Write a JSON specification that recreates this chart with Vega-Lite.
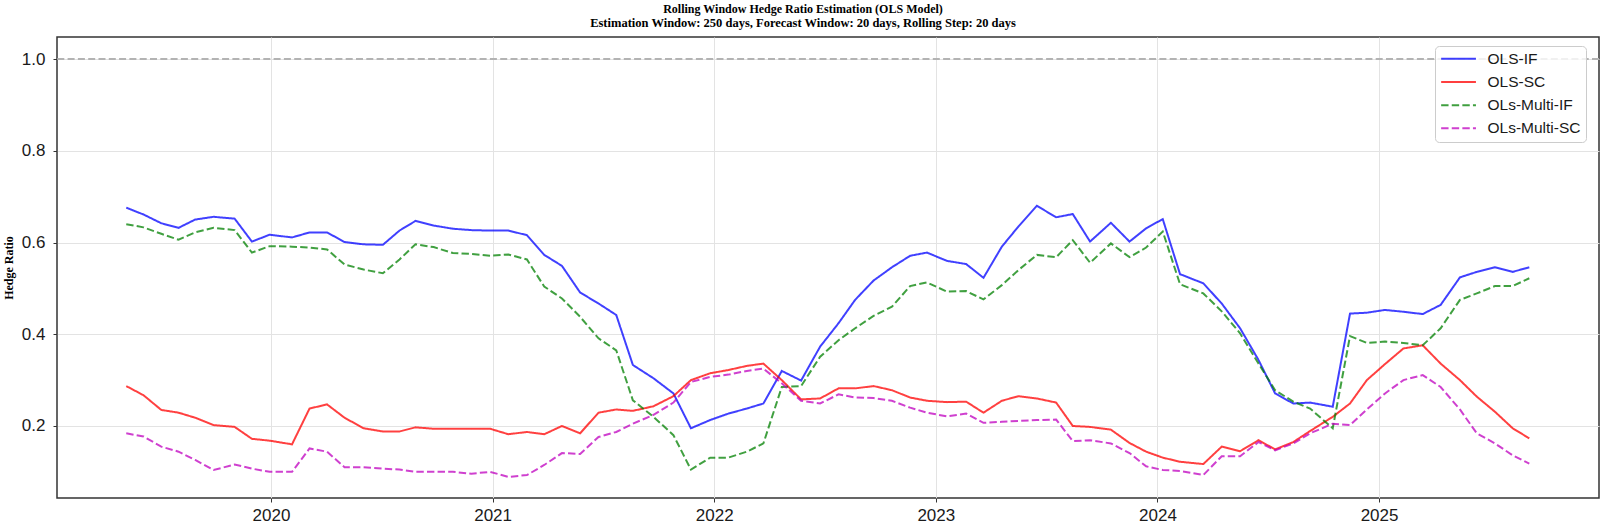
{
  "$schema": "https://vega.github.io/schema/vega-lite/v6.json",
  "width": 1542,
  "height": 461,
  "autosize": "none",
  "padding": {"left": 57, "top": 37, "right": 1, "bottom": 25},
  "background": "white",
  "title": {
    "text": "Rolling Window Hedge Ratio Estimation (OLS Model)",
    "subtitle": "Estimation Window: 250 days, Forecast Window: 20 days, Rolling Step: 20 days",
    "font": "Liberation Serif",
    "fontSize": 12,
    "fontWeight": "bold",
    "color": "black",
    "subtitleFont": "Liberation Serif",
    "subtitleFontSize": 12.5,
    "subtitleFontWeight": "bold",
    "subtitleColor": "black",
    "subtitlePadding": 1,
    "anchor": "middle",
    "offset": 7,
    "dx": -25
  },
  "config": {
    "view": {"stroke": "#333333", "strokeWidth": 1.5},
    "axis": {
      "labelFont": "Liberation Sans",
      "labelFontSize": 17,
      "labelColor": "#1a1a1a",
      "tickColor": "#333333",
      "tickSize": 4,
      "tickWidth": 1,
      "gridColor": "#e3e3e3",
      "gridWidth": 1,
      "domain": false
    }
  },
  "datasets": {
    "hedge": [
      {"t": 2019.347, "OLS-IF": 0.676, "OLS-SC": 0.287, "OLs-Multi-IF": 0.640, "OLs-Multi-SC": 0.184},
      {"t": 2019.425, "OLS-IF": 0.661, "OLS-SC": 0.267, "OLs-Multi-IF": 0.633, "OLs-Multi-SC": 0.177},
      {"t": 2019.505, "OLS-IF": 0.642, "OLS-SC": 0.235, "OLs-Multi-IF": 0.619, "OLs-Multi-SC": 0.155},
      {"t": 2019.583, "OLS-IF": 0.632, "OLS-SC": 0.229, "OLs-Multi-IF": 0.606, "OLs-Multi-SC": 0.144},
      {"t": 2019.658, "OLS-IF": 0.650, "OLS-SC": 0.218, "OLs-Multi-IF": 0.622, "OLs-Multi-SC": 0.126},
      {"t": 2019.741, "OLS-IF": 0.656, "OLS-SC": 0.202, "OLs-Multi-IF": 0.632, "OLs-Multi-SC": 0.104},
      {"t": 2019.836, "OLS-IF": 0.652, "OLS-SC": 0.198, "OLs-Multi-IF": 0.627, "OLs-Multi-SC": 0.116},
      {"t": 2019.914, "OLS-IF": 0.602, "OLS-SC": 0.172, "OLs-Multi-IF": 0.578, "OLs-Multi-SC": 0.107},
      {"t": 2019.994, "OLS-IF": 0.617, "OLS-SC": 0.168, "OLs-Multi-IF": 0.592, "OLs-Multi-SC": 0.100},
      {"t": 2020.095, "OLS-IF": 0.611, "OLS-SC": 0.160, "OLs-Multi-IF": 0.591, "OLs-Multi-SC": 0.100},
      {"t": 2020.174, "OLS-IF": 0.622, "OLS-SC": 0.238, "OLs-Multi-IF": 0.589, "OLs-Multi-SC": 0.151},
      {"t": 2020.253, "OLS-IF": 0.622, "OLS-SC": 0.247, "OLs-Multi-IF": 0.585, "OLs-Multi-SC": 0.144},
      {"t": 2020.332, "OLS-IF": 0.601, "OLS-SC": 0.218, "OLs-Multi-IF": 0.552, "OLs-Multi-SC": 0.110},
      {"t": 2020.418, "OLS-IF": 0.596, "OLS-SC": 0.195, "OLs-Multi-IF": 0.541, "OLs-Multi-SC": 0.110},
      {"t": 2020.505, "OLS-IF": 0.595, "OLS-SC": 0.188, "OLs-Multi-IF": 0.533, "OLs-Multi-SC": 0.107},
      {"t": 2020.580, "OLS-IF": 0.626, "OLS-SC": 0.188, "OLs-Multi-IF": 0.563, "OLs-Multi-SC": 0.105},
      {"t": 2020.652, "OLS-IF": 0.647, "OLS-SC": 0.197, "OLs-Multi-IF": 0.596, "OLs-Multi-SC": 0.100},
      {"t": 2020.734, "OLS-IF": 0.637, "OLS-SC": 0.194, "OLs-Multi-IF": 0.590, "OLs-Multi-SC": 0.100},
      {"t": 2020.821, "OLS-IF": 0.630, "OLS-SC": 0.194, "OLs-Multi-IF": 0.577, "OLs-Multi-SC": 0.100},
      {"t": 2020.904, "OLS-IF": 0.627, "OLS-SC": 0.194, "OLs-Multi-IF": 0.575, "OLs-Multi-SC": 0.096},
      {"t": 2020.989, "OLS-IF": 0.626, "OLS-SC": 0.194, "OLs-Multi-IF": 0.571, "OLs-Multi-SC": 0.100},
      {"t": 2021.071, "OLS-IF": 0.626, "OLS-SC": 0.182, "OLs-Multi-IF": 0.574, "OLs-Multi-SC": 0.089},
      {"t": 2021.155, "OLS-IF": 0.616, "OLS-SC": 0.187, "OLs-Multi-IF": 0.563, "OLs-Multi-SC": 0.093},
      {"t": 2021.233, "OLS-IF": 0.573, "OLS-SC": 0.182, "OLs-Multi-IF": 0.504, "OLs-Multi-SC": 0.115},
      {"t": 2021.313, "OLS-IF": 0.549, "OLS-SC": 0.200, "OLs-Multi-IF": 0.478, "OLs-Multi-SC": 0.141},
      {"t": 2021.395, "OLS-IF": 0.491, "OLS-SC": 0.184, "OLs-Multi-IF": 0.438, "OLs-Multi-SC": 0.139},
      {"t": 2021.478, "OLS-IF": 0.467, "OLS-SC": 0.229, "OLs-Multi-IF": 0.391, "OLs-Multi-SC": 0.176},
      {"t": 2021.558, "OLS-IF": 0.442, "OLS-SC": 0.236, "OLs-Multi-IF": 0.365, "OLs-Multi-SC": 0.187},
      {"t": 2021.633, "OLS-IF": 0.333, "OLS-SC": 0.233, "OLs-Multi-IF": 0.256, "OLs-Multi-SC": 0.205},
      {"t": 2021.726, "OLS-IF": 0.304, "OLS-SC": 0.243, "OLs-Multi-IF": 0.220, "OLs-Multi-SC": 0.224},
      {"t": 2021.816, "OLS-IF": 0.271, "OLS-SC": 0.265, "OLs-Multi-IF": 0.180, "OLs-Multi-SC": 0.251},
      {"t": 2021.895, "OLS-IF": 0.195, "OLS-SC": 0.300, "OLs-Multi-IF": 0.105, "OLs-Multi-SC": 0.296},
      {"t": 2021.982, "OLS-IF": 0.213, "OLS-SC": 0.315, "OLs-Multi-IF": 0.131, "OLs-Multi-SC": 0.307},
      {"t": 2022.064, "OLS-IF": 0.227, "OLS-SC": 0.322, "OLs-Multi-IF": 0.131, "OLs-Multi-SC": 0.312},
      {"t": 2022.147, "OLS-IF": 0.238, "OLS-SC": 0.331, "OLs-Multi-IF": 0.144, "OLs-Multi-SC": 0.320},
      {"t": 2022.222, "OLS-IF": 0.249, "OLS-SC": 0.336, "OLs-Multi-IF": 0.162, "OLs-Multi-SC": 0.325},
      {"t": 2022.305, "OLS-IF": 0.320, "OLS-SC": 0.300, "OLs-Multi-IF": 0.285, "OLs-Multi-SC": 0.293},
      {"t": 2022.392, "OLS-IF": 0.299, "OLS-SC": 0.258, "OLs-Multi-IF": 0.287, "OLs-Multi-SC": 0.255},
      {"t": 2022.478, "OLS-IF": 0.373, "OLS-SC": 0.260, "OLs-Multi-IF": 0.351, "OLs-Multi-SC": 0.249},
      {"t": 2022.561, "OLS-IF": 0.424, "OLS-SC": 0.282, "OLs-Multi-IF": 0.387, "OLs-Multi-SC": 0.269},
      {"t": 2022.636, "OLS-IF": 0.475, "OLS-SC": 0.282, "OLs-Multi-IF": 0.413, "OLs-Multi-SC": 0.262},
      {"t": 2022.719, "OLS-IF": 0.517, "OLS-SC": 0.287, "OLs-Multi-IF": 0.440, "OLs-Multi-SC": 0.261},
      {"t": 2022.802, "OLS-IF": 0.546, "OLS-SC": 0.278, "OLs-Multi-IF": 0.460, "OLs-Multi-SC": 0.255},
      {"t": 2022.884, "OLS-IF": 0.571, "OLS-SC": 0.262, "OLs-Multi-IF": 0.505, "OLs-Multi-SC": 0.240},
      {"t": 2022.960, "OLS-IF": 0.578, "OLS-SC": 0.255, "OLs-Multi-IF": 0.513, "OLs-Multi-SC": 0.229},
      {"t": 2023.050, "OLS-IF": 0.560, "OLS-SC": 0.252, "OLs-Multi-IF": 0.493, "OLs-Multi-SC": 0.221},
      {"t": 2023.137, "OLS-IF": 0.553, "OLS-SC": 0.253, "OLs-Multi-IF": 0.494, "OLs-Multi-SC": 0.227},
      {"t": 2023.215, "OLS-IF": 0.523, "OLS-SC": 0.229, "OLs-Multi-IF": 0.476, "OLs-Multi-SC": 0.207},
      {"t": 2023.298, "OLS-IF": 0.591, "OLS-SC": 0.255, "OLs-Multi-IF": 0.507, "OLs-Multi-SC": 0.209},
      {"t": 2023.373, "OLS-IF": 0.635, "OLS-SC": 0.265, "OLs-Multi-IF": 0.540, "OLs-Multi-SC": 0.211},
      {"t": 2023.456, "OLS-IF": 0.680, "OLS-SC": 0.260, "OLs-Multi-IF": 0.573, "OLs-Multi-SC": 0.213},
      {"t": 2023.543, "OLS-IF": 0.655, "OLS-SC": 0.251, "OLs-Multi-IF": 0.568, "OLs-Multi-SC": 0.214},
      {"t": 2023.618, "OLS-IF": 0.662, "OLS-SC": 0.200, "OLs-Multi-IF": 0.605, "OLs-Multi-SC": 0.167},
      {"t": 2023.696, "OLS-IF": 0.602, "OLS-SC": 0.198, "OLs-Multi-IF": 0.556, "OLs-Multi-SC": 0.169},
      {"t": 2023.790, "OLS-IF": 0.643, "OLS-SC": 0.192, "OLs-Multi-IF": 0.598, "OLs-Multi-SC": 0.162},
      {"t": 2023.874, "OLS-IF": 0.602, "OLS-SC": 0.163, "OLs-Multi-IF": 0.568, "OLs-Multi-SC": 0.141},
      {"t": 2023.949, "OLS-IF": 0.631, "OLS-SC": 0.144, "OLs-Multi-IF": 0.589, "OLs-Multi-SC": 0.112},
      {"t": 2024.024, "OLS-IF": 0.651, "OLS-SC": 0.131, "OLs-Multi-IF": 0.624, "OLs-Multi-SC": 0.104},
      {"t": 2024.102, "OLS-IF": 0.531, "OLS-SC": 0.122, "OLs-Multi-IF": 0.509, "OLs-Multi-SC": 0.102},
      {"t": 2024.207, "OLS-IF": 0.511, "OLS-SC": 0.117, "OLs-Multi-IF": 0.489, "OLs-Multi-SC": 0.093},
      {"t": 2024.290, "OLS-IF": 0.467, "OLS-SC": 0.155, "OLs-Multi-IF": 0.450, "OLs-Multi-SC": 0.134},
      {"t": 2024.373, "OLS-IF": 0.413, "OLS-SC": 0.145, "OLs-Multi-IF": 0.402, "OLs-Multi-SC": 0.134},
      {"t": 2024.456, "OLS-IF": 0.344, "OLS-SC": 0.169, "OLs-Multi-IF": 0.336, "OLs-Multi-SC": 0.165},
      {"t": 2024.531, "OLS-IF": 0.271, "OLS-SC": 0.149, "OLs-Multi-IF": 0.278, "OLs-Multi-SC": 0.147},
      {"t": 2024.613, "OLS-IF": 0.249, "OLS-SC": 0.165, "OLs-Multi-IF": 0.253, "OLs-Multi-SC": 0.162},
      {"t": 2024.689, "OLS-IF": 0.251, "OLS-SC": 0.189, "OLs-Multi-IF": 0.238, "OLs-Multi-SC": 0.184},
      {"t": 2024.791, "OLS-IF": 0.242, "OLS-SC": 0.220, "OLs-Multi-IF": 0.195, "OLs-Multi-SC": 0.205},
      {"t": 2024.869, "OLS-IF": 0.445, "OLS-SC": 0.249, "OLs-Multi-IF": 0.396, "OLs-Multi-SC": 0.202},
      {"t": 2024.945, "OLS-IF": 0.447, "OLS-SC": 0.300, "OLs-Multi-IF": 0.381, "OLs-Multi-SC": 0.236},
      {"t": 2025.027, "OLS-IF": 0.453, "OLS-SC": 0.335, "OLs-Multi-IF": 0.384, "OLs-Multi-SC": 0.271},
      {"t": 2025.110, "OLS-IF": 0.449, "OLS-SC": 0.369, "OLs-Multi-IF": 0.381, "OLs-Multi-SC": 0.300},
      {"t": 2025.197, "OLS-IF": 0.444, "OLS-SC": 0.376, "OLs-Multi-IF": 0.376, "OLs-Multi-SC": 0.311},
      {"t": 2025.278, "OLS-IF": 0.464, "OLS-SC": 0.336, "OLs-Multi-IF": 0.413, "OLs-Multi-SC": 0.285},
      {"t": 2025.365, "OLS-IF": 0.524, "OLS-SC": 0.300, "OLs-Multi-IF": 0.475, "OLs-Multi-SC": 0.236},
      {"t": 2025.441, "OLS-IF": 0.536, "OLS-SC": 0.264, "OLs-Multi-IF": 0.489, "OLs-Multi-SC": 0.184},
      {"t": 2025.523, "OLS-IF": 0.546, "OLS-SC": 0.231, "OLs-Multi-IF": 0.505, "OLs-Multi-SC": 0.162},
      {"t": 2025.603, "OLS-IF": 0.536, "OLS-SC": 0.195, "OLs-Multi-IF": 0.505, "OLs-Multi-SC": 0.136},
      {"t": 2025.678, "OLS-IF": 0.546, "OLS-SC": 0.173, "OLs-Multi-IF": 0.522, "OLs-Multi-SC": 0.118}
    ],
    "ref": [{"ratio": 1.0}]
  },
  "layer": [
    {
      "data": {"name": "ref"},
      "mark": {"type": "rule", "color": "#b3b3b3", "strokeWidth": 2, "strokeDash": [7, 3.3]},
      "encoding": {
        "y": {"field": "ratio", "type": "quantitative", "scale": {"domain": [0.043, 1.048], "nice": false, "zero": false}}
      }
    },
    {
      "data": {"name": "hedge"},
      "transform": [
        {"fold": ["OLS-IF", "OLS-SC", "OLs-Multi-IF", "OLs-Multi-SC"], "as": ["series", "ratio"]}
      ],
      "mark": {"type": "line", "strokeWidth": 2, "opacity": 0.75},
      "encoding": {
        "x": {
          "field": "t",
          "type": "quantitative",
          "scale": {"domain": [2019.0345, 2025.9925], "nice": false, "zero": false},
          "axis": {"values": [2020, 2021, 2022, 2023, 2024, 2025], "format": "d", "title": null, "labelPadding": 5, "grid": true}
        },
        "y": {
          "field": "ratio",
          "type": "quantitative",
          "scale": {"domain": [0.043, 1.048], "nice": false, "zero": false},
          "axis": {
            "values": [0.2, 0.4, 0.6, 0.8, 1.0],
            "format": ".1f",
            "title": "Hedge Ratio",
            "titleFont": "Liberation Serif",
            "titleFontSize": 12,
            "titleFontWeight": "bold",
            "titleColor": "black",
            "titlePadding": 6,
            "labelPadding": 8,
            "grid": true
          }
        },
        "color": {
          "field": "series",
          "type": "nominal",
          "scale": {"domain": ["OLS-IF", "OLS-SC", "OLs-Multi-IF", "OLs-Multi-SC"], "range": ["#0000ff", "#ff0000", "#008000", "#bf00bf"]},
          "legend": {
            "title": null,
            "orient": "none",
            "legendX": 1378,
            "legendY": 9,
            "labelFont": "Liberation Sans",
            "labelFontSize": 15.5,
            "labelColor": "#1a1a1a",
            "labelOffset": 32,
            "symbolType": "M-1.1,0L4.7,0",
            "symbolSize": 144,
            "symbolStrokeWidth": 2,
            "symbolOpacity": 0.75,
            "rowPadding": 6.2,
            "padding": 5,
            "strokeColor": "#cccccc",
            "fillColor": "rgba(255,255,255,0.8)",
            "cornerRadius": 4
          }
        },
        "strokeDash": {
          "field": "series",
          "type": "nominal",
          "scale": {"domain": ["OLS-IF", "OLS-SC", "OLs-Multi-IF", "OLs-Multi-SC"], "range": [[1, 0], [1, 0], [7.4, 3.2], [7.4, 3.2]]},
          "legend": {
            "title": null,
            "orient": "none",
            "legendX": 1378,
            "legendY": 9,
            "labelFont": "Liberation Sans",
            "labelFontSize": 15.5,
            "labelColor": "#1a1a1a",
            "labelOffset": 32,
            "symbolType": "M-1.1,0L4.7,0",
            "symbolSize": 144,
            "symbolStrokeWidth": 2,
            "symbolOpacity": 0.75,
            "rowPadding": 6.2,
            "padding": 5,
            "strokeColor": "#cccccc",
            "fillColor": "rgba(255,255,255,0.8)",
            "cornerRadius": 4
          }
        }
      }
    }
  ]
}
